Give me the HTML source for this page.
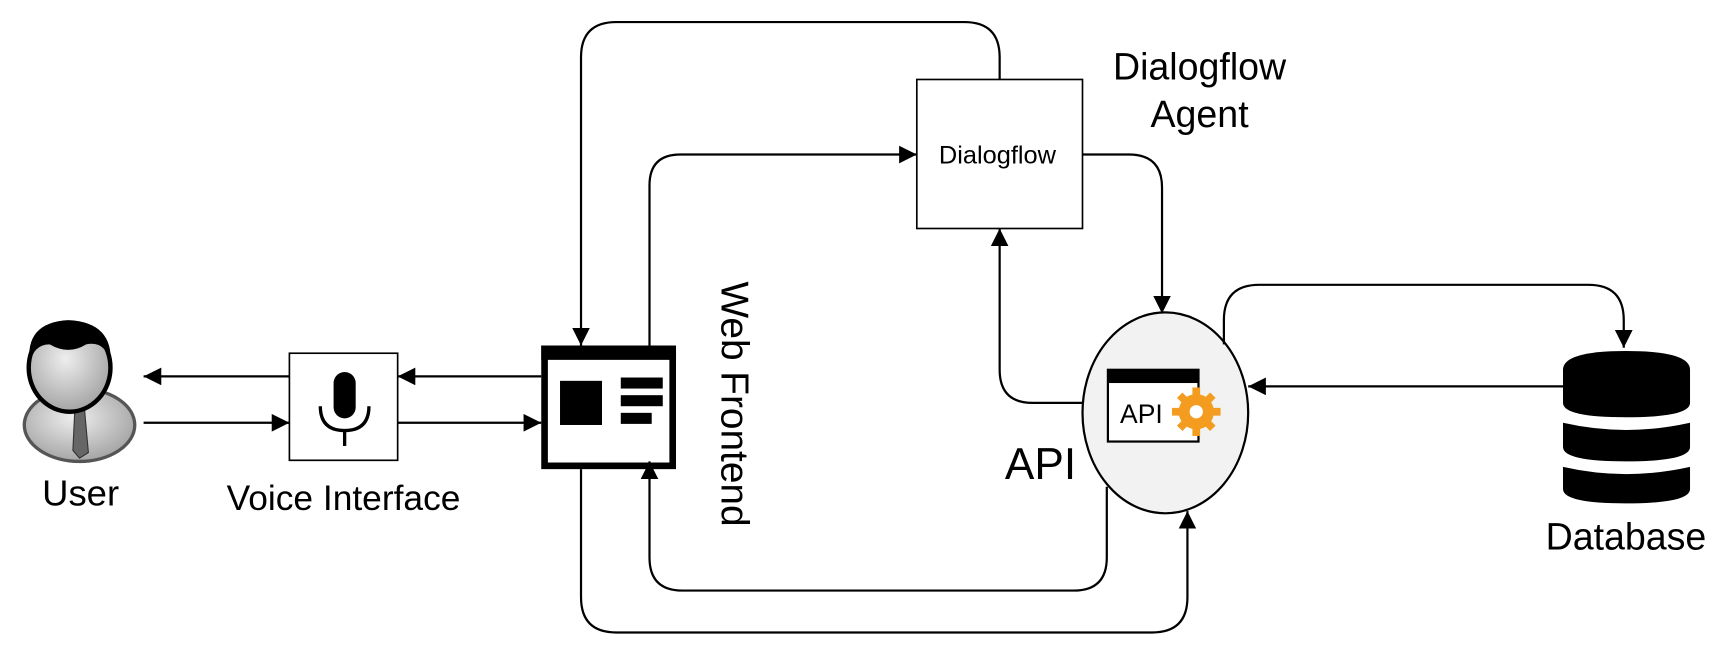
<!DOCTYPE html>
<html><head><meta charset="utf-8"><style>
html,body{margin:0;padding:0;background:#fff;}
svg{display:block;}
text{font-family:"Liberation Sans",sans-serif;fill:#000;}
</style></head><body>
<svg width="1732" height="659" viewBox="0 0 1568 597" preserveAspectRatio="none" xmlns="http://www.w3.org/2000/svg">
<defs>
<marker id="a" viewBox="0 0 10 10" refX="10" refY="5" markerWidth="16" markerHeight="16" markerUnits="userSpaceOnUse" orient="auto"><path d="M0,0 L10,5 L0,10 z" fill="#000"/></marker>
<radialGradient id="g" cx="0.45" cy="0.4" r="0.7"><stop offset="0" stop-color="#eee"/><stop offset="1" stop-color="#999"/></radialGradient>
</defs>
<!-- User -->
<ellipse cx="72" cy="385" rx="50" ry="33" fill="url(#g)" stroke="#555" stroke-width="3"/>
<path d="M68,365 L76,365 L80,410 L72,415 L66,408 z" fill="#666" stroke="#333"/>
<ellipse cx="63" cy="333" rx="37" ry="40" fill="url(#g)" stroke="#000" stroke-width="4"/>
<path d="M27,330 Q22,292 62,290 Q103,292 100,330 Q96,308 78,312 Q62,322 45,312 Q30,312 27,330 z" fill="#000"/>
<text x="73" y="458" font-size="33" text-anchor="middle">User</text>
<!-- Voice -->
<rect x="262" y="320" width="98" height="97" fill="#fff" stroke="#000" stroke-width="1.5"/>
<rect x="302" y="337" width="20" height="42" rx="10" fill="#000"/>
<path d="M290,368 Q290,390 312,390 Q334,390 334,368" fill="none" stroke="#000" stroke-width="3"/>
<line x1="312" y1="390" x2="312" y2="404" stroke="#000" stroke-width="3"/>
<text x="311" y="462" font-size="32" text-anchor="middle">Voice Interface</text>
<!-- Web frontend -->
<rect x="493" y="316" width="116" height="106" fill="#fff" stroke="#000" stroke-width="6"/>
<rect x="490" y="313" width="122" height="13" fill="#000"/>
<rect x="507" y="345" width="38" height="40" fill="#000"/>
<rect x="562" y="342" width="38" height="10" fill="#000"/>
<rect x="562" y="358" width="38" height="10" fill="#000"/>
<rect x="562" y="374" width="28" height="10" fill="#000"/>
<text transform="translate(653,255) rotate(90)" font-size="35" textLength="222" lengthAdjust="spacingAndGlyphs">Web Frontend</text>
<!-- Dialogflow -->
<rect x="830" y="72" width="150" height="135" fill="#fff" stroke="#000" stroke-width="1.5"/>
<text x="903" y="148" font-size="23" text-anchor="middle">Dialogflow</text>
<text x="1086" y="72" font-size="34" text-anchor="middle">Dialogflow</text>
<text x="1086" y="115" font-size="34" text-anchor="middle">Agent</text>
<!-- API -->
<ellipse cx="1055" cy="374" rx="75" ry="91" fill="#f2f2f2" stroke="#000" stroke-width="2"/>
<rect x="1003" y="335" width="82" height="65" fill="#fff" stroke="#000" stroke-width="2"/>
<rect x="1003" y="335" width="82" height="12" fill="#000"/>
<text x="1014" y="383" font-size="24">API</text>
<g transform="translate(1083,373)" fill="#f39c1f">
<circle r="16"/>
<g stroke="#f39c1f" stroke-width="7">
<line x1="0" y1="-22" x2="0" y2="22"/><line x1="-22" y1="0" x2="22" y2="0"/>
<line x1="-15" y1="-15" x2="15" y2="15"/><line x1="-15" y1="15" x2="15" y2="-15"/>
</g>
<circle r="6" fill="#fff"/>
</g>
<text x="942" y="434" font-size="40" text-anchor="middle">API</text>
<!-- Database -->
<g fill="#000">
<path d="M1415,335 Q1415,318 1472,318 Q1530,318 1530,335 V365 Q1530,378 1472,378 Q1415,378 1415,365 z"/>
<path d="M1415,383 Q1472,396 1530,383 V405 Q1530,418 1472,418 Q1415,418 1415,405 z"/>
<path d="M1415,423 Q1472,436 1530,423 V443 Q1530,456 1472,456 Q1415,456 1415,443 z"/>
</g>
<text x="1472" y="498" font-size="34" text-anchor="middle">Database</text>
<!-- connectors -->
<g fill="none" stroke="#000" stroke-width="2">
<line x1="262" y1="341" x2="130" y2="341" marker-end="url(#a)"/>
<line x1="130" y1="383" x2="262" y2="383" marker-end="url(#a)"/>
<line x1="490" y1="341" x2="360" y2="341" marker-end="url(#a)"/>
<line x1="360" y1="383" x2="490" y2="383" marker-end="url(#a)"/>
<path d="M905,72 V52 Q905,20 873,20 H558 Q526,20 526,52 V313" marker-end="url(#a)"/>
<path d="M588,313 V168 Q588,140 616,140 H830" marker-end="url(#a)"/>
<path d="M980,140 H1022 Q1052,140 1052,170 V284" marker-end="url(#a)"/>
<path d="M980,365 H935 Q905,365 905,335 V207" marker-end="url(#a)"/>
<path d="M1108,312 V290 Q1108,258 1140,258 H1438 Q1470,258 1470,290 V315" marker-end="url(#a)"/>
<line x1="1415" y1="350" x2="1130" y2="350" marker-end="url(#a)"/>
<path d="M526,425 V541 Q526,573 558,573 H1043 Q1075,573 1075,541 V463" marker-end="url(#a)"/>
<path d="M1002,441 V505 Q1002,535 972,535 H618 Q588,535 588,505 V418" marker-end="url(#a)"/>
</g>
</svg>
</body></html>
